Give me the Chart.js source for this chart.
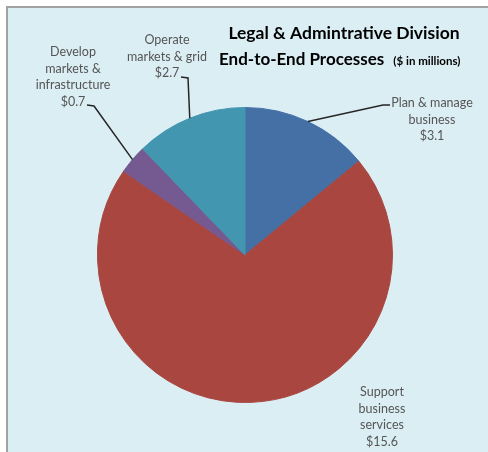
<!DOCTYPE html>
<html>
<head>
<meta charset="utf-8">
<script src="https://cdn.jsdelivr.net/npm/chart.js@4.4.1/dist/chart.umd.min.js"></script>
<style>
  html, body { margin: 0; padding: 0; background: #fff; }
  canvas { display: block; }
</style>
</head>
<body>
<canvas id="processChart" width="488" height="452"></canvas>
<script>
const processes = ['Plan & manage business', 'Support business services', 'Develop markets & infrastructure', 'Operate markets & grid'];
const labelLines = [['Plan & manage', 'business'], ['Support', 'business', 'services'], ['Develop', 'markets &', 'infrastructure'], ['Operate', 'markets & grid']];
const spend = [3.1, 15.6, 0.7, 2.7]; // $ in millions
const sliceColors = ['#4470A6', '#A9463F', '#755A91', '#4396AF'];

// label block centre (first line) + elbow of the leader line, per slice
const labelLayout = [
    { x: 432, y: 103, elbow: [[390, 105], [383, 105]] },
    { x: 382, y: 392, elbow: null },
    { x: 73, y: 52, elbow: [[87, 105], [94, 106]] },
    { x: 167, y: 40, elbow: [[181, 77], [188, 78]] }
];

const panelPlugin = {
    id: 'panel',
    beforeDraw: (chart) => {
        const { ctx, width, height } = chart;
        ctx.save();
        ctx.fillStyle = '#ffffff';
        ctx.fillRect(0, 0, width, height);
        ctx.fillStyle = '#DBEEF4';
        ctx.fillRect(8, 8, width - 8, height - 8);
        ctx.strokeStyle = '#A2A2A2';
        ctx.lineWidth = 2;
        ctx.beginPath();
        ctx.moveTo(7, height); ctx.lineTo(7, 7); ctx.lineTo(width, 7);
        ctx.stroke();
        ctx.restore();
    }
};

const titlePlugin = {
    id: 'cornerTitle',
    afterDraw: (chart) => {
        const { ctx } = chart;
        ctx.save();
        ctx.fillStyle = '#000000';
        ctx.textBaseline = 'middle';
        ctx.font = 'bold 17.5px Lato';
        ctx.textAlign = 'center';
        ctx.fillText('Legal & Admintrative Division', 344, 33);
        ctx.textAlign = 'left';
        ctx.font = 'bold 17px Lato';
        const sub = 'End-to-End Processes';
        ctx.fillText(sub, 219, 60);
        const subEnd = 219 + ctx.measureText(sub).width;
        ctx.font = 'bold 11.5px Lato';
        ctx.fillText('($ in millions)', subEnd + 9, 61);
        ctx.restore();
    }
};

const sliceLabelPlugin = {
    id: 'sliceLabels',
    afterDatasetsDraw: (chart) => {
        const { ctx } = chart;
        const arcs = chart.getDatasetMeta(0).data;
        ctx.save();
        arcs.forEach((arc, i) => {
            const pos = labelLayout[i];
            if (pos.elbow) {
                const mid = (arc.startAngle + arc.endAngle) / 2;
                ctx.strokeStyle = '#262626';
                ctx.lineWidth = 1.5;
                ctx.beginPath();
                ctx.moveTo(pos.elbow[0][0], pos.elbow[0][1]);
                ctx.lineTo(pos.elbow[1][0], pos.elbow[1][1]);
                ctx.lineTo(arc.x + Math.cos(mid) * arc.outerRadius, arc.y + Math.sin(mid) * arc.outerRadius);
                ctx.stroke();
            }
            const lines = labelLines[i].concat('$' + spend[i].toFixed(1));
            ctx.fillStyle = '#555555';
            ctx.font = '12.5px Lato';
            ctx.textAlign = 'center';
            ctx.textBaseline = 'middle';
            lines.forEach((t, k) => ctx.fillText(t, pos.x, pos.y + k * 16.5));
        });
        ctx.restore();
    }
};

new Chart(document.getElementById('processChart').getContext('2d'), {
    type: 'pie',
    data: {
        labels: processes,
        datasets: [{ data: spend, backgroundColor: sliceColors, borderColor: sliceColors, borderWidth: 1 }]
    },
    plugins: [panelPlugin, sliceLabelPlugin, titlePlugin],
    options: {
        responsive: false, animation: false,
        layout: { padding: { left: 97, right: 95, top: 107, bottom: 49 } },
        plugins: { legend: { display: false }, tooltip: { enabled: false } }
    }
});
</script>
</body>
</html>
